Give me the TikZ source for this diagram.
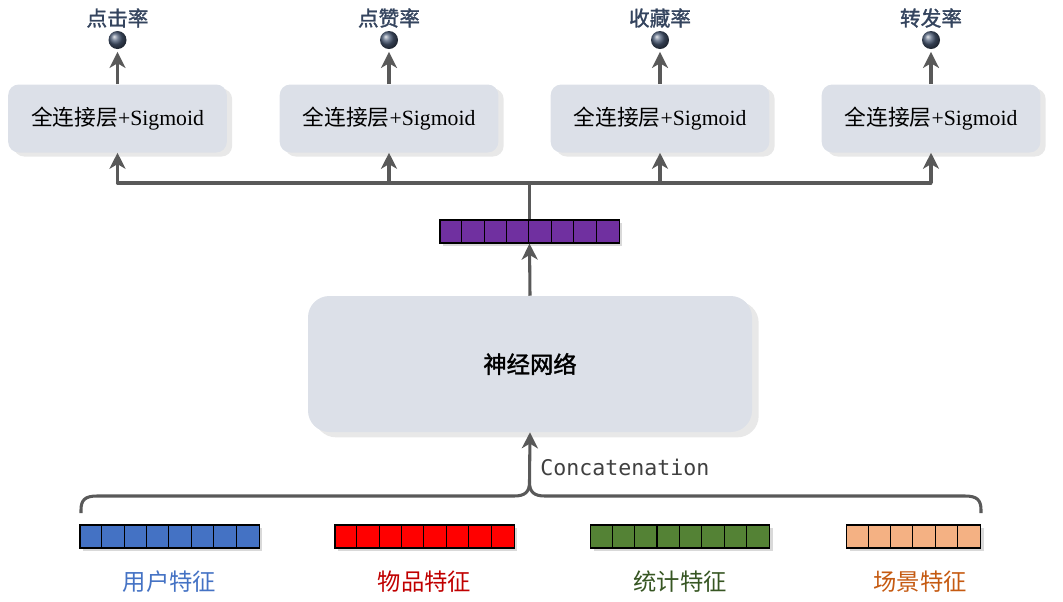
\documentclass[tikz,border=0pt]{standalone}
\usepackage{fontspec}
\setmainfont{Liberation Serif}
\setmonofont{DejaVu Sans Mono}
\newfontfamily\cjk{Noto Sans CJK SC}
\newfontfamily\cjkb[FakeBold=1.5]{Noto Sans CJK SC}
\usetikzlibrary{arrows.meta,shadows,shapes.geometric}
\definecolor{boxfill}{HTML}{DCE0E8}
\definecolor{arrgray}{HTML}{595959}
\definecolor{toplab}{HTML}{34445E}
\definecolor{ballcol}{HTML}{4A5A75}
\definecolor{cpurple}{HTML}{7030A0}
\definecolor{cblue}{HTML}{4472C4}
\definecolor{cred}{HTML}{FF0000}
\definecolor{cgreen}{HTML}{548235}
\definecolor{corange}{HTML}{F4B183}
\definecolor{lblue}{HTML}{4472C4}
\definecolor{lred}{HTML}{C00000}
\definecolor{lgreen}{HTML}{375623}
\definecolor{lorange}{HTML}{C55A11}
\tikzset{
  fcbox/.style={fill=boxfill, rounded corners=8pt, minimum width=164pt, minimum height=51pt, inner sep=0pt,
    drop shadow={shadow xshift=4pt, shadow yshift=-3pt, opacity=0.18, fill=gray}, font=\fontsize{16.3}{19}\selectfont},
  nnbox/.style={fill=boxfill, rounded corners=16pt, minimum width=333pt, minimum height=102pt, inner sep=0pt,
    drop shadow={shadow xshift=5pt, shadow yshift=-4pt, opacity=0.18, fill=gray}},
  ball/.style={circle, inner sep=0pt, minimum size=13.5pt, ball color=ballcol},
  toplabel/.style={text=toplab, font=\cjkb\fontsize{15.5}{17}\selectfont, inner sep=0pt},
  botlabel/.style={font=\cjk\fontsize{17.5}{20}\selectfont, inner sep=0pt},
  vecbox/.style={draw=black, line width=0.9pt, minimum height=17.25pt, inner sep=0pt,
    drop shadow={shadow xshift=2.5pt, shadow yshift=-2pt, opacity=0.3, fill=gray}},
  cellline/.style={draw=black, line width=0.8pt},
  arr/.style={draw=arrgray, line width=2.3pt, -{Stealth[length=12pt,width=12pt,inset=3.5pt]}},
  ln/.style={draw=arrgray, line width=2.3pt},
}
\begin{document}
\begin{tikzpicture}[x=0.75pt,y=-0.75pt]
\useasboundingbox (0,0) rectangle (1063,601);

% top boxes
\foreach \n/\x/\lab in {1/117.5/点击率,2/389/点赞率,3/660/收藏率,4/931/转发率}{
  \node[fcbox] (fc\n) at (\x,118.5) {{\cjk 全连接层}+Sigmoid};
  \node[ball] (ball\n) at (\x,40) {};
  \node[toplabel] (lab\n) at (\x,18) {\lab};
  \draw[arr, shorten >=2pt] (fc\n.north) -- (ball\n.south);
  \coordinate (bus\n) at (\x,183);
  \draw[arr] (bus\n) -- (fc\n.south);
}
\draw[ln, line cap=round] (bus1) -- (bus4);

% purple vector
\node[vecbox, fill=cpurple, minimum width=134.4pt] (pv) at (529.5,231.5) {};
\foreach \i in {1,...,7}
  \draw[cellline] ([xshift=\i*16.8pt]pv.south west) -- ([xshift=\i*16.8pt]pv.north west);
\coordinate (busc) at (529.5,183);
\draw[ln] (pv.north) -- (busc);

% neural network
\node[nnbox] (nn) at (530,364) {\cjkb\fontsize{17.5}{20}\selectfont 神经网络};
\draw[arr] (nn.north) -- (pv.south);

% feature vectors
\node[vecbox, fill=cblue, minimum width=134.4pt] (uv) at (169.5,536.5) {};
\node[vecbox, fill=cred, minimum width=134.4pt] (iv) at (424.5,536.5) {};
\node[vecbox, fill=cgreen, minimum width=134.4pt] (sv) at (680,536.5) {};
\node[vecbox, fill=corange, minimum width=100.8pt] (cv) at (913.5,536.5) {};
\foreach \v in {uv,iv,sv}{
  \foreach \i in {1,...,7}
    \draw[cellline] ([xshift=\i*16.8pt]\v.south west) -- ([xshift=\i*16.8pt]\v.north west);
}
\foreach \i in {1,...,5}
  \draw[cellline] ([xshift=\i*16.8pt]cv.south west) -- ([xshift=\i*16.8pt]cv.north west);

% labels
\node[botlabel, text=lblue] (ul) at (169.5,582) {用户特征};
\node[botlabel, text=lred] (il) at (424.5,582) {物品特征};
\node[botlabel, text=lgreen] (sl) at (680,582) {统计特征};
\node[botlabel, text=lorange] (cl) at (920,582) {场景特征};

% brace
\coordinate (bl) at (81,513);
\coordinate (br) at (981,513);
\coordinate (cusp) at (529.5,482);
\draw[ln] (bl) -- (81,510) .. controls (81,500) and (85,496) .. (97,496) -- (514,496)
  .. controls (525,496) and (529.5,492) .. (cusp)
  .. controls (529.5,492) and (534,496) .. (545,496) -- (965,496)
  .. controls (977,496) and (981,500) .. (981,510) -- (br);
\draw[arr] (cusp) -- (nn.south);
\node[anchor=west, text=black!75, font=\ttfamily\fontsize{16.2}{19}\selectfont, inner sep=0pt] (cat) at (540,467) {Concatenation};
\end{tikzpicture}
\end{document}
